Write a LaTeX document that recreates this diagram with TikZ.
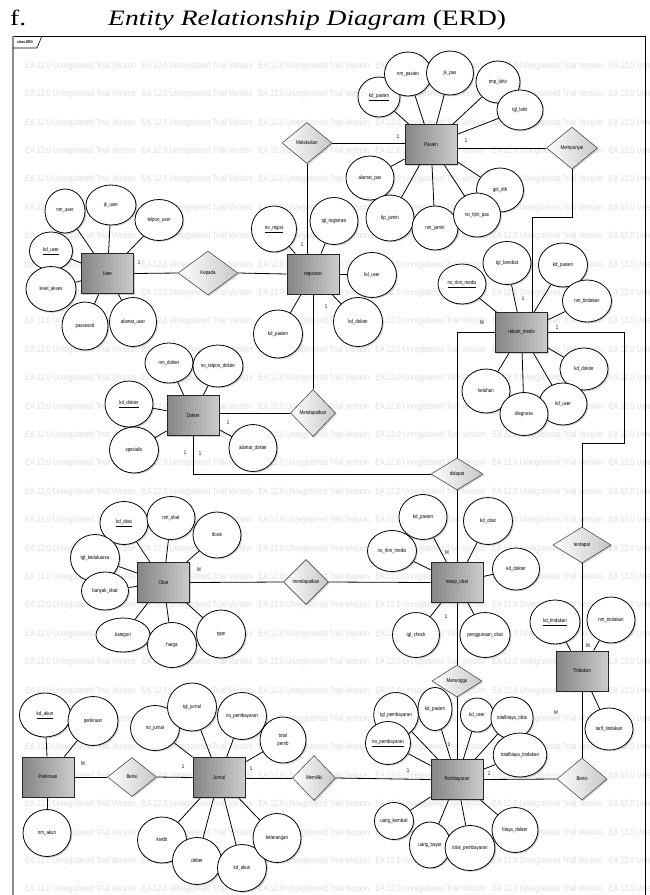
\documentclass[tikz,border=0pt]{standalone}
\usepackage{fontspec}
\setmainfont{Liberation Serif}
\newfontfamily\narrow[FakeStretch=0.8]{Liberation Sans}
\newfontfamily\titlefont[FakeStretch=1.25]{Liberation Serif}
\usetikzlibrary{shapes.geometric,shadows}
\newcommand\erdlbl{\narrow\fontsize{5.5}{6}\selectfont}
\pgfdeclarelayer{wm}
\pgfdeclarelayer{bg}
\pgfsetlayers{wm,bg,main}
\tikzset{
  shd/.style={drop shadow={shadow xshift=1.3pt,shadow yshift=-1.3pt,opacity=0.35}},
  ent/.style={rectangle, draw=black!85, line width=0.9pt, left color=black!48, right color=black!20,
    minimum width=52pt, minimum height=40pt, inner sep=0pt, font=\erdlbl, shd},
  rel/.style={diamond, draw=black!70, line width=0.6pt, left color=white, right color=black!22,
    inner sep=0pt, font=\erdlbl, shd},
  att/.style={ellipse, draw=black, line width=0.8pt, fill=white, inner sep=0pt, font=\erdlbl, shd},
  card/.style={font=\erdlbl, inner sep=0pt},
  conn/.style={draw=black, line width=0.8pt},
  wmark/.style={anchor=west, inner sep=0pt, text=black!13, font=\narrow\fontsize{9}{9}\selectfont},
}
\begin{document}
\begin{tikzpicture}[x=1pt,y=-1pt]
\useasboundingbox (0,0) rectangle (649,895);
% title
\node[anchor=base west, inner sep=0pt, font=\titlefont\fontsize{22}{22}\selectfont] (tf) at (10,25) {f.};
\node[anchor=base west, inner sep=0pt, font=\titlefont\fontsize{22}{22}\selectfont] (tt) at (108,25) {\textit{Entity Relationship Diagram} (ERD)};
% watermark
\begin{pgfonlayer}{wm}
\foreach \r in {0,...,29}{
  \foreach \c in {0,...,5}{
    \node[wmark] (w-\r-\c) at ({25+116.7*\c},{66+28.4*\r}) {EA 12.0 Unregistered Trial Version};
  }
}
\end{pgfonlayer}
% frame
\begin{pgfonlayer}{bg}
\draw[black, line width=0.8pt] (13,36) -- (645,36) -- (645,895);
\draw[black!45, line width=2pt] (13,36) -- (13,895);
\draw[black, line width=0.6pt] (13,48) -- (37,48) -- (42,36);
\end{pgfonlayer}
\node[inner sep=0pt, font=\narrow\bfseries\fontsize{4}{4}\selectfont] (tab) at (25,42) {class ERD};

% entities
\node[ent] (Pasien) at (431,144.5) {Pasien};
\node[ent] (User) at (107.5,273.5) {User};
\node[ent] (registrasi) at (313,274) {registrasi};
\node[ent] (rekam) at (521.5,332.5) {rekam\_medis};
\node[ent] (Dokter) at (193,415.5) {Dokter};
\node[ent] (Obat) at (163.5,582.5) {Obat};
\node[ent] (resep) at (457,582.5) {resep\_obat};
\node[ent] (Tindakan) at (582,671) {Tindakan};
\node[ent] (Perkiraan) at (48,777) {Perkiraan};
\node[ent] (Jurnal) at (219,777.5) {Jurnal};
\node[ent] (Pembayaran) at (457,779.5) {Pembayaran};

% relationships
\node[rel, minimum width=50pt, minimum height=41pt] (Melakukan) at (307,143) {Melakukan};
\node[rel, minimum width=51pt, minimum height=42pt] (Mempunyai) at (572,148) {Mempunyai};
\node[rel, minimum width=60pt, minimum height=44pt] (Kepada) at (208,273) {Kepada};
\node[rel, minimum width=45pt, minimum height=47pt] (Mendapatkan) at (313,413) {Mendapatkan};
\node[rel, minimum width=52pt, minimum height=32pt] (didapat) at (457,474) {didapat};
\node[rel, minimum width=45pt, minimum height=45pt] (mendapatkan) at (306,582) {mendapatkan};
\node[rel, minimum width=58pt, minimum height=36pt] (terdapat) at (582,545) {terdapat};
\node[rel, minimum width=50pt, minimum height=32pt] (Menunggu) at (457,681) {Menunggu};
\node[rel, minimum width=49pt, minimum height=39pt] (BerisiA) at (132,777) {Berisi};
\node[rel, minimum width=43pt, minimum height=45pt] (Memiliki) at (314,778) {Memiliki};
\node[rel, minimum width=50pt, minimum height=42pt] (BerisiB) at (582,779) {Berisi};

% attributes: Pasien
\node[att, minimum width=42pt, minimum height=40pt] (pa1) at (379,97) {\underline{kd\_pasien}};
\node[att, minimum width=47pt, minimum height=44pt] (pa2) at (408,74) {nm\_pasien};
\node[att, minimum width=47pt, minimum height=44pt] (pa3) at (450,73) {jk\_pas};
\node[att, minimum width=44pt, minimum height=42pt] (pa4) at (498,82) {tmp\_lahir};
\node[att, minimum width=46pt, minimum height=40pt] (pa5) at (520,110) {tgl\_lahir};
\node[att, minimum width=48pt, minimum height=44pt] (pa6) at (370,178) {alamat\_pas};
\node[att, minimum width=48pt, minimum height=46pt] (pa7) at (390,218) {tlp\_jamin};
\node[att, minimum width=46pt, minimum height=44pt] (pa8) at (435,228) {nm\_jamin};
\node[att, minimum width=47pt, minimum height=44pt] (pa10) at (500,190) {gol\_dth};
\node[att, minimum width=47pt, minimum height=44pt] (pa9) at (477,215) {no\_tlpn\_pas};
% User
\node[att, minimum width=40pt, minimum height=44pt] (u1) at (65,211) {nm\_user};
\node[att, minimum width=50pt, minimum height=40pt] (u2) at (111,205) {jk\_user};
\node[att, minimum width=48pt, minimum height=41pt] (u3) at (159,220) {telpon\_user};
\node[att, minimum width=43pt, minimum height=38pt] (u4) at (51,251) {\underline{kd\_user}};
\node[att, minimum width=50pt, minimum height=45pt] (u5) at (51,289) {level\_akses};
\node[att, minimum width=46pt, minimum height=48pt] (u6) at (85,326) {password};
\node[att, minimum width=47pt, minimum height=49pt] (u7) at (133,322) {alamat\_user};
% registrasi
\node[att, minimum width=45pt, minimum height=46pt] (r1) at (274,229) {\underline{no\_regist}};
\node[att, minimum width=48pt, minimum height=47pt] (r2) at (334,221) {tgl\_registrasi};
\node[att, minimum width=49pt, minimum height=45pt] (r3) at (372,275) {kd\_user};
\node[att, minimum width=49pt, minimum height=48pt] (r4) at (278,334) {kd\_pasien};
\node[att, minimum width=49pt, minimum height=49pt] (r5) at (358,322) {kd\_dokter};
% rekam medis
\node[att, minimum width=48pt, minimum height=40pt] (m1) at (462,284) {\underline{no\_rkm\_medis}};
\node[att, minimum width=48pt, minimum height=43pt] (m2) at (507,263) {tgl\_berobat};
\node[att, minimum width=49pt, minimum height=44pt] (m3) at (563,265) {kd\_pasien};
\node[att, minimum width=49pt, minimum height=42pt] (m4) at (587,301) {nm\_tindakan};
\node[att, minimum width=48pt, minimum height=42pt] (m5) at (584,369) {kd\_dokter};
\node[att, minimum width=48pt, minimum height=44pt] (m8) at (486,391) {keluhan};
\node[att, minimum width=48pt, minimum height=42pt] (m6) at (563,404) {kd\_user};
\node[att, minimum width=48pt, minimum height=43pt] (m7) at (524,414) {diagnosa};
% Dokter
\node[att, minimum width=48pt, minimum height=40pt] (d1) at (169,363) {nm\_dokter};
\node[att, minimum width=50pt, minimum height=42pt] (d2) at (218,366) {no\_telpon\_dokter};
\node[att, minimum width=48pt, minimum height=46pt] (d3) at (129,404) {\underline{kd\_dokter}};
\node[att, minimum width=49pt, minimum height=46pt] (d4) at (134,450) {spesialis};
\node[att, minimum width=48pt, minimum height=47pt] (d5) at (253,448) {alamat\_dokter};
% Obat
\node[att, minimum width=48pt, minimum height=43pt] (o1) at (124,523) {\underline{kd\_obat}};
\node[att, minimum width=48pt, minimum height=43pt] (o2) at (171,518) {nm\_obat};
\node[att, minimum width=48pt, minimum height=46pt] (o3) at (217,535) {dosis};
\node[att, minimum width=49pt, minimum height=47pt] (o4) at (95,558) {tgl\_kedaluarsa};
\node[att, minimum width=47pt, minimum height=38pt] (o5) at (105,591) {banyak\_obat};
\node[att, minimum width=54pt, minimum height=34pt] (o6) at (123,635) {kategori};
\node[att, minimum width=49pt, minimum height=45pt] (o7) at (172,645) {harga};
\node[att, minimum width=49pt, minimum height=48pt] (o8) at (221,634) {type};
% resep obat
\node[att, minimum width=48pt, minimum height=45pt] (s1) at (423,517) {kd\_pasien};
\node[att, minimum width=49pt, minimum height=47pt] (s2) at (488,521) {kd\_obat};
\node[att, minimum width=49pt, minimum height=41pt] (s3) at (392,551) {no\_rkm\_medis};
\node[att, minimum width=47pt, minimum height=42pt] (s4) at (516,569) {kd\_dokter};
\node[att, minimum width=47pt, minimum height=45pt] (s5) at (416,635) {tgl\_check};
\node[att, minimum width=47pt, minimum height=45pt] (s6) at (485,635) {penggunaan\_obat};
% Tindakan
\node[att, minimum width=50pt, minimum height=44pt] (t1) at (555,622) {\underline{kd\_tindakan}};
\node[att, minimum width=48pt, minimum height=46pt] (t2) at (611,620) {nm\_tindakan};
\node[att, minimum width=48pt, minimum height=42pt] (t3) at (609,729) {tarif\_tindakan};
% Perkiraan
\node[att, minimum width=51pt, minimum height=44pt] (k1) at (45,715) {\underline{kd\_akun}};
\node[att, minimum width=50pt, minimum height=49pt] (k2) at (93,721) {perkiraan};
\node[att, minimum width=48pt, minimum height=47pt] (k3) at (47,833) {nm\_akun};
% Jurnal
\node[att, minimum width=49pt, minimum height=45pt] (j1) at (155,728) {no\_jurnal};
\node[att, minimum width=49pt, minimum height=48pt] (j2) at (192,707) {tgl\_jurnal};
\node[att, minimum width=49pt, minimum height=47pt] (j3) at (242,716) {no\_pembayaran};
\node[att, minimum width=46pt, minimum height=46pt, align=center] (j4) at (283,740) {total\\[2pt]pemb};
\node[att, minimum width=49pt, minimum height=46pt] (j5) at (162,840) {kredit};
\node[att, minimum width=49pt, minimum height=47pt] (j6) at (197,861) {debet};
\node[att, minimum width=49pt, minimum height=47pt] (j7) at (242,868) {kd\_akun};
\node[att, minimum width=48pt, minimum height=49pt] (j8) at (277,838) {keterangan};
% Pembayaran
\node[att, minimum width=44pt, minimum height=45pt] (b1) at (396,715) {tgl\_pembayaran};
\node[att, minimum width=34pt, minimum height=43pt] (b2) at (435,709) {kd\_pasien};
\node[att, minimum width=43pt, minimum height=43pt] (b3) at (388,743) {\underline{no\_pembayaran}};
\node[att, minimum width=33pt, minimum height=34pt] (b4) at (477,715) {kd\_user};
\node[att, minimum width=41pt, minimum height=42pt] (b5) at (512,718) {totalbiaya\_obat};
\node[att, minimum width=41pt, minimum height=44pt] (b6) at (520,755) {totalbiaya\_tindakan};
\node[att, minimum width=39pt, minimum height=37pt] (b7) at (394,821) {uang\_kembali};
\node[att, minimum width=41pt, minimum height=46pt] (b8) at (430,845) {uang\_bayar};
\node[att, minimum width=45pt, minimum height=45pt] (b9) at (470,848) {total\_pembayaran};
\node[att, minimum width=46pt, minimum height=45pt] (b10) at (515,830) {biaya\_dokter};

% connectors and stubs
\coordinate (rt) at (624,443);
\coordinate (mp) at (532,217);
\begin{pgfonlayer}{bg}
\foreach \a in {pa1,pa2,pa3,pa4,pa5,pa6,pa7,pa8,pa9,pa10} \draw[conn] (Pasien) -- (\a);
\foreach \a in {u1,u2,u3,u4,u5,u6,u7} \draw[conn] (User) -- (\a);
\foreach \a in {r1,r2,r3,r4,r5} \draw[conn] (registrasi) -- (\a);
\foreach \a in {m1,m2,m3,m4,m5,m6,m7,m8} \draw[conn] (rekam) -- (\a);
\foreach \a in {d1,d2,d3,d4,d5} \draw[conn] (Dokter) -- (\a);
\foreach \a in {o1,o2,o3,o4,o5,o6,o7,o8} \draw[conn] (Obat) -- (\a);
\foreach \a in {s1,s2,s3,s4,s5,s6} \draw[conn] (resep) -- (\a);
\foreach \a in {t1,t2,t3} \draw[conn] (Tindakan) -- (\a);
\foreach \a in {k1,k2,k3} \draw[conn] (Perkiraan) -- (\a);
\foreach \a in {j1,j2,j3,j4,j5,j6,j7,j8} \draw[conn] (Jurnal) -- (\a);
\foreach \a in {b1,b2,b3,b4,b5,b6,b7,b8,b9,b10} \draw[conn] (Pembayaran) -- (\a);

\draw[conn] (Melakukan.east) -- (Melakukan.east -| Pasien.west);
\draw[conn] (Melakukan.south) -- (Melakukan.south |- registrasi.north);
\draw[conn] (registrasi.south) -- (Mendapatkan.north);
\draw[conn] (Mendapatkan.west) -- (Mendapatkan.west -| Dokter.east);
\draw[conn] (Dokter.south) |- (didapat.west);
\draw[conn] (didapat.north) |- (rekam.west);
\draw[conn] (didapat.south) -- (resep.north);
\draw[conn] (rekam.east) -| (rt) -| (terdapat.north);
\draw[conn] (terdapat.south) -- (Tindakan.north);
\draw[conn] (Tindakan.south) -- (BerisiB.north);
\draw[conn] (BerisiB.west) -- (Pembayaran.east);
\draw[conn] (Pembayaran.west) -- (Memiliki.east);
\draw[conn] (Memiliki.west) -- (Memiliki.west -| Jurnal.east);
\draw[conn] (Jurnal.west) -- (BerisiA.east);
\draw[conn] (BerisiA.west) -- (Perkiraan.east);
\draw[conn] (Pembayaran.north) -- (Menunggu.south);
\draw[conn] (Menunggu.north) -- (resep.south);
\draw[conn] (Obat.east) -- (mendapatkan.west);
\draw[conn] (mendapatkan.east) -- (resep.west);
\draw[conn] (Mempunyai.west -| Pasien.east) -- (Mempunyai.west);
\draw[conn] (Mempunyai.south) |- (mp) -- (mp |- rekam.north);
\draw[conn] (User.east) -- (Kepada.west);
\draw[conn] (Kepada.east) -- (registrasi.west);
\end{pgfonlayer}

% cardinalities
\node[card] (c1) at (398,137) {1};
\node[card] (c2) at (302,245) {1};
\node[card] (c3) at (326,307) {1};
\node[card] (c4) at (228,423) {1};
\node[card] (c5) at (185,453) {1};
\node[card] (c6) at (200,454) {1};
\node[card] (c7) at (482,323) {M};
\node[card] (c8) at (447,553) {M};
\node[card] (c9) at (557,328) {1};
\node[card] (c10) at (588,646) {M};
\node[card] (c11) at (556,713) {M};
\node[card] (c12) at (489,774) {1};
\node[card] (c13) at (408,771) {1};
\node[card] (c14) at (251,769) {1};
\node[card] (c15) at (183,767) {1};
\node[card] (c16) at (83,764) {M};
\node[card] (c17) at (449,745) {1};
\node[card] (c18) at (446,617) {1};
\node[card] (c19) at (199,570) {M};
\node[card] (c20) at (466,141) {1};
\node[card] (c21) at (523,299) {1};
\node[card] (c22) at (139,263) {1};
\end{tikzpicture}
\end{document}
